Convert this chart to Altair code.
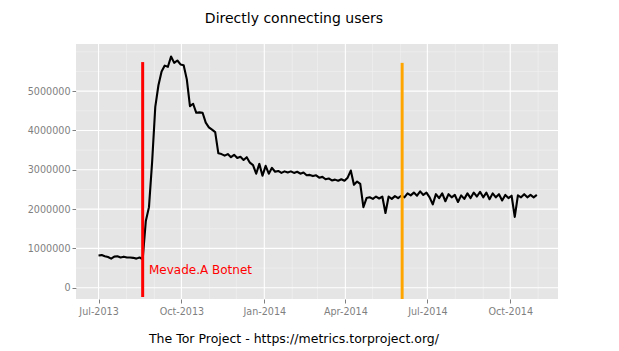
import altair as alt
import pandas as pd

# ---- data ----
series_start = "2013-07-01"
step_hours = 84  # one reading every 3.5 days
users = [
    820000, 830000, 800000, 780000, 740000, 790000, 800000, 770000, 790000, 770000,
    770000, 760000, 740000, 770000, 720000,
    1700000, 2050000, 3200000, 4600000, 5150000, 5500000, 5650000, 5620000, 5880000, 5720000,
    5780000, 5680000, 5660000, 5300000, 4620000, 4680000, 4450000, 4460000, 4450000, 4200000,
    4080000, 4020000, 3960000, 3420000, 3400000, 3360000, 3400000, 3320000, 3380000, 3300000,
    3330000, 3250000, 3320000, 3180000, 3120000, 2900000, 3150000, 2850000, 3100000, 2900000,
    3050000, 2950000, 2970000, 2920000, 2960000, 2930000, 2960000, 2920000, 2950000, 2900000,
    2930000, 2860000, 2870000, 2840000, 2860000, 2800000, 2820000, 2760000, 2780000, 2730000,
    2750000, 2720000, 2760000, 2720000, 2800000, 2980000, 2620000, 2700000, 2640000, 2050000,
    2280000, 2300000, 2260000, 2320000, 2270000, 2320000, 1900000, 2320000, 2260000, 2330000,
    2280000, 2340000, 2300000, 2400000, 2350000, 2420000, 2340000, 2450000, 2360000, 2420000,
    2300000, 2120000, 2380000, 2280000, 2400000, 2200000, 2380000, 2300000, 2360000, 2180000,
    2350000, 2260000, 2400000, 2280000, 2420000, 2320000, 2440000, 2300000, 2420000, 2250000,
    2400000, 2300000, 2380000, 2220000, 2360000, 2280000, 2340000, 1800000, 2350000, 2300000,
    2380000, 2300000, 2360000, 2300000, 2360000,
]

major_dates = ["2013-07-01", "2013-10-01", "2014-01-01", "2014-04-01", "2014-07-01", "2014-10-01"]
minor_dates = ["2013-08-01", "2013-09-01", "2013-11-01", "2013-12-01", "2014-02-01", "2014-03-01",
               "2014-05-01", "2014-06-01", "2014-08-01", "2014-09-01", "2014-11-01"]
major_y = [0, 1000000, 2000000, 3000000, 4000000, 5000000]
minor_y = [500000, 1500000, 2500000, 3500000, 4500000, 5500000, 6000000]

event_dates = ["2013-08-19", "2014-06-03"]
event_top = [5740000, 5720000]
event_bottom = [-236000, -287000]
event_colors = ["#FF0000", "#FFA500"]

label_text = ["Mevade.A Botnet"]
label_date = ["2013-08-26"]
label_value = [460000]

x_domain = ["2013-06-06", "2014-11-23"]
y_domain = [-287000, 6200000]

title_text = "Directly connecting users"
caption_text = "The Tor Project - https://metrics.torproject.org/"

# ---- tables ----
dates = pd.date_range(series_start, periods=len(users), freq=f"{step_hours}h")
df = pd.DataFrame({"date": dates, "users": users})
df_major_x = pd.DataFrame({"date": pd.to_datetime(major_dates)})
df_minor_x = pd.DataFrame({"date": pd.to_datetime(minor_dates)})
df_major_y = pd.DataFrame({"v": major_y})
df_minor_y = pd.DataFrame({"v": minor_y})
df_events = pd.DataFrame({"date": pd.to_datetime(event_dates), "top": event_top,
                          "bottom": event_bottom, "color": event_colors})
df_label = pd.DataFrame({"date": pd.to_datetime(label_date), "v": label_value, "t": label_text})
df_one = pd.DataFrame({"a": [1]})

FONT = "DejaVu Sans"
GREY = "#7F7F7F"


def dt(s):
    d = pd.Timestamp(s)
    return alt.DateTime(year=d.year, month=d.month, date=d.day)


x_scale = alt.Scale(domain=[dt(x_domain[0]), dt(x_domain[1])])
y_scale = alt.Scale(domain=y_domain, nice=False, zero=False)
x_axis = alt.Axis(values=[dt(d) for d in major_dates], format="%b-%Y", title=None,
                  labelPadding=3, tickSize=4)
y_axis = alt.Axis(values=major_y, format="d", title=None, labelPadding=2, tickSize=4)


def X(field):
    return alt.X(field, type="temporal", scale=x_scale, axis=x_axis)


def Y(field):
    return alt.Y(field, type="quantitative", scale=y_scale, axis=y_axis)


minor_vx = alt.Chart(df_minor_x).mark_rule(color="#F2F2F2", strokeWidth=0.6).encode(x=X("date"))
minor_hy = alt.Chart(df_minor_y).mark_rule(color="#F2F2F2", strokeWidth=0.6).encode(y=Y("v"))
major_vx = alt.Chart(df_major_x).mark_rule(color="#FFFFFF", strokeWidth=1.1).encode(x=X("date"))
major_hy = alt.Chart(df_major_y).mark_rule(color="#FFFFFF", strokeWidth=1.1).encode(y=Y("v"))

line = alt.Chart(df).mark_line(color="black", strokeWidth=2.1, strokeJoin="round").encode(
    x=X("date"), y=Y("users")
)

events = alt.Chart(df_events).mark_rule(strokeWidth=3).encode(
    x=X("date"), y=Y("bottom"), y2="top",
    color=alt.Color("color:N", scale=None, legend=None),
)

label = alt.Chart(df_label).mark_text(
    align="left", baseline="middle", color="#FF0000", font=FONT, fontSize=12
).encode(x=X("date"), y=Y("v"), text="t:N")

title = alt.Chart(df_one).mark_text(
    align="center", baseline="middle", font=FONT, fontSize=14, color="black"
).encode(x=alt.value(218), y=alt.value(-25.5), text=alt.value(title_text))

caption = alt.Chart(df_one).mark_text(
    align="center", baseline="middle", font=FONT, fontSize=12.5, color="black"
).encode(x=alt.value(218), y=alt.value(295), text=alt.value(caption_text))

chart = alt.layer(
    minor_vx, minor_hy, major_vx, major_hy, line, events, label, title, caption
).properties(
    width=482, height=255,
    autosize=alt.AutoSizeParams(type="none"),
    padding={"left": 76, "top": 44, "right": 61, "bottom": 52},
).configure_view(
    fill="#E5E5E5", stroke=None
).configure_axis(
    domain=False, grid=False, tickColor=GREY, labelColor=GREY, labelFont=FONT,
    labelFontSize=9.6, tickWidth=1,
)

chart.save("out.html", embed_options={"renderer": "svg", "actions": False})
